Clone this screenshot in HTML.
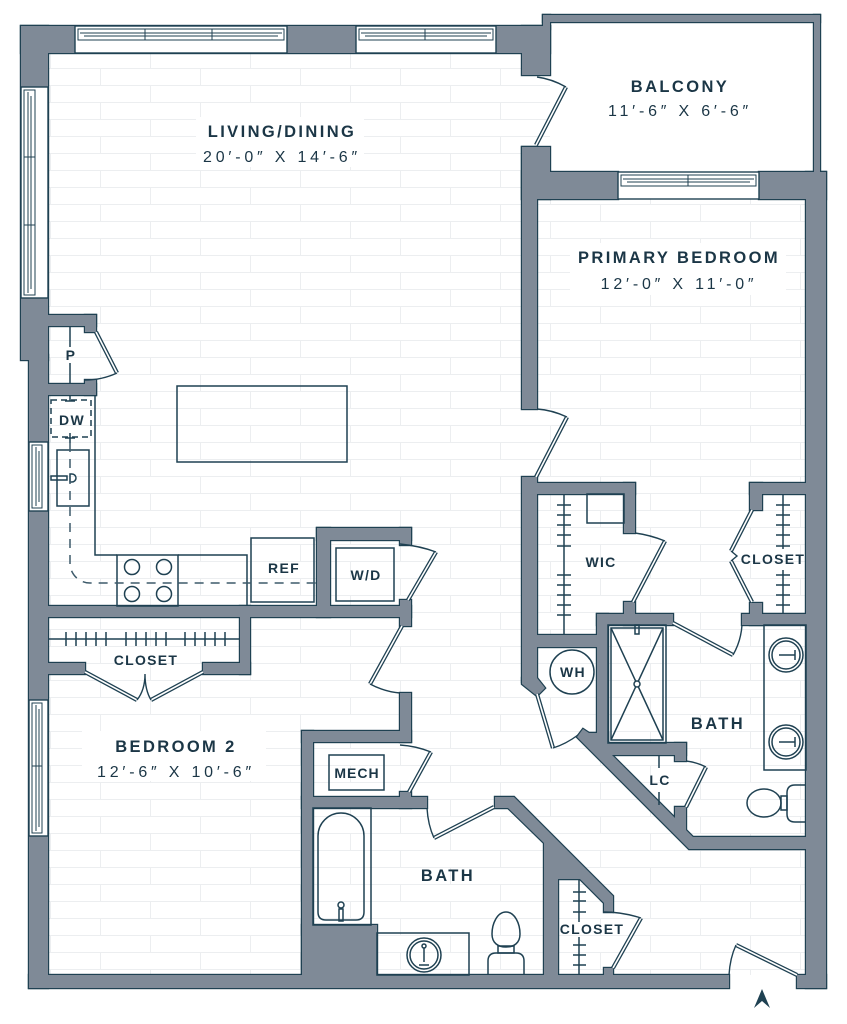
<!DOCTYPE html>
<html>
<head>
<meta charset="utf-8">
<style>
html,body{margin:0;padding:0;background:#fff;}
svg{display:block;}
.t{font-family:"Liberation Sans",sans-serif;fill:#1b3646;}
.lbl{font-weight:bold;font-size:16.5px;letter-spacing:2.4px;}
.dim{font-size:16px;letter-spacing:3.8px;}
.sm{font-weight:bold;font-size:14px;letter-spacing:1.3px;}
</style>
</head>
<body>
<svg width="847" height="1024" viewBox="0 0 847 1024" xmlns="http://www.w3.org/2000/svg">
<defs>
<pattern id="brick" x="0" y="0" width="100" height="34" patternUnits="userSpaceOnUse">
<path d="M0,0.5H100M0,17.5H100M0.5,0V17M50.5,17V34" stroke="#eceef0" stroke-width="1" fill="none"/>
</pattern>
<g id="walls">
<rect x="21" y="26" width="529" height="27"/>
<rect x="21" y="26" width="27" height="334"/>
<rect x="29" y="355" width="19" height="633"/>
<rect x="29" y="975" width="700" height="13"/>
<rect x="797" y="975" width="29" height="13"/>
<rect x="806" y="172" width="20" height="816"/>
<rect x="522" y="26" width="28" height="49"/>
<rect x="522" y="147" width="28" height="52"/>
<rect x="522" y="172" width="96" height="27"/>
<rect x="759" y="172" width="67" height="27"/>
<rect x="522" y="147" width="15" height="262"/>
<rect x="522" y="477" width="15" height="205"/>
<polygon points="522,678 537,678 545,688 537,696 522,684"/>
<rect x="543" y="15" width="277" height="7"/>
<rect x="814" y="15" width="6" height="160"/>
<rect x="543" y="15" width="7" height="14"/>
<rect x="48" y="315" width="48" height="11"/>
<rect x="85" y="315" width="11" height="17"/>
<rect x="48" y="384" width="48" height="11"/>
<rect x="85" y="380" width="11" height="15"/>
<rect x="44" y="606" width="367" height="11"/>
<rect x="317" y="528" width="13" height="89"/>
<rect x="317" y="528" width="94" height="12"/>
<rect x="400" y="528" width="11" height="17"/>
<rect x="400" y="600" width="11" height="26"/>
<rect x="240" y="606" width="10" height="68"/>
<rect x="44" y="663" width="41" height="11"/>
<rect x="203" y="663" width="47" height="11"/>
<rect x="400" y="693" width="11" height="49"/>
<rect x="302" y="731" width="109" height="11"/>
<rect x="400" y="792" width="11" height="16"/>
<rect x="302" y="797" width="125" height="11"/>
<rect x="302" y="731" width="11" height="250"/>
<rect x="302" y="925" width="75" height="55"/>
<polygon points="495,797 514,797 613,896 613,912 604,912 604,903 580,879 558,879 558,980 544,980 544,843 508,808 495,808"/>
<rect x="604" y="968" width="9" height="10"/>
<rect x="530" y="483" width="105" height="11"/>
<rect x="624" y="483" width="11" height="50"/>
<rect x="624" y="602" width="11" height="23"/>
<rect x="530" y="635" width="70" height="12"/>
<rect x="597" y="614" width="11" height="141"/>
<rect x="597" y="614" width="76" height="11"/>
<rect x="597" y="743" width="89" height="12"/>
<rect x="675" y="743" width="11" height="18"/>
<polygon points="577,737 583,729 589,733 608,733 608,755 612,755 675,818 675,807 686,807 686,830 693,837 810,837 810,849 689,849"/>
<rect x="750" y="483" width="60" height="11"/>
<rect x="750" y="483" width="12" height="27"/>
<rect x="750" y="603" width="12" height="22"/>
<rect x="742" y="614" width="68" height="11"/>
</g>
</defs>

<rect x="0" y="0" width="847" height="1024" fill="#fff"/>
<rect x="48" y="53" width="758" height="922" fill="url(#brick)"/>
<rect x="550" y="22" width="264" height="150" fill="#fff"/>

<use href="#walls" fill="#7f8a97" stroke="#1f4152" stroke-width="2.4"/>
<use href="#walls" fill="#7f8a97" stroke="none"/>

<g fill="#fff" stroke="#1f4152" stroke-width="1.4">
<rect x="75" y="26" width="212" height="27"/>
<rect x="356" y="26" width="140" height="27"/>
<rect x="618" y="172" width="141" height="27"/>
<rect x="21" y="87" width="27" height="211"/>
<rect x="29" y="442" width="19" height="69"/>
<rect x="29" y="700" width="19" height="136"/>
</g>
<g fill="none" stroke="#1f4152" stroke-width="1">
<rect x="78" y="29" width="206" height="11"/>
<path d="M80,33H282M84,36H278M145,29V40M212,29V40"/>
<rect x="359" y="29" width="134" height="11"/>
<path d="M361,33H491M365,36H487M425,29V40"/>
<rect x="621" y="175" width="135" height="11"/>
<path d="M623,179H754M627,182H750M688,175V186"/>
<rect x="24" y="90" width="11" height="205"/>
<path d="M28,92V293M31,96V289M24,157H35M24,225H35"/>
<rect x="32" y="445" width="10" height="63"/>
<path d="M36,447V506M39,451V502"/>
<rect x="32" y="703" width="10" height="130"/>
<path d="M36,705V831M39,709V827M32,766H42"/>
</g>

<g stroke="#1f4152" stroke-width="4.2" stroke-linecap="butt">
<line x1="96" y1="332" x2="117" y2="373"/>
<line x1="436" y1="552" x2="408" y2="600"/>
<line x1="402" y1="626" x2="370" y2="684"/>
<line x1="85" y1="672" x2="137" y2="700"/>
<line x1="203" y1="672" x2="151" y2="700"/>
<line x1="431" y1="752" x2="409" y2="792"/>
<line x1="434" y1="838" x2="494" y2="807"/>
<line x1="641" y1="918" x2="613" y2="968"/>
<line x1="797" y1="975" x2="736" y2="945"/>
<line x1="566" y1="87" x2="536" y2="145"/>
<line x1="567" y1="417" x2="536" y2="477"/>
<line x1="665" y1="541" x2="633" y2="602"/>
<line x1="537" y1="694" x2="553" y2="748"/>
<line x1="673" y1="623" x2="733" y2="655"/>
<line x1="752" y1="510" x2="731" y2="551"/>
<line x1="731" y1="561" x2="752" y2="602"/>
<line x1="706" y1="767" x2="686" y2="807"/>
</g>
<g stroke="#fff" stroke-width="1.6">
<line x1="96" y1="332" x2="117" y2="373"/>
<line x1="436" y1="552" x2="408" y2="600"/>
<line x1="402" y1="626" x2="370" y2="684"/>
<line x1="85" y1="672" x2="137" y2="700"/>
<line x1="203" y1="672" x2="151" y2="700"/>
<line x1="431" y1="752" x2="409" y2="792"/>
<line x1="434" y1="838" x2="494" y2="807"/>
<line x1="641" y1="918" x2="613" y2="968"/>
<line x1="797" y1="975" x2="736" y2="945"/>
<line x1="566" y1="87" x2="536" y2="145"/>
<line x1="567" y1="417" x2="536" y2="477"/>
<line x1="665" y1="541" x2="633" y2="602"/>
<line x1="537" y1="694" x2="553" y2="748"/>
<line x1="673" y1="623" x2="733" y2="655"/>
<line x1="752" y1="510" x2="731" y2="551"/>
<line x1="731" y1="561" x2="752" y2="602"/>
<line x1="706" y1="767" x2="686" y2="807"/>
</g>
<g fill="none" stroke="#1f4152" stroke-width="1.4">
<path d="M117,373 Q102,380 85,380"/>
<path d="M400,544 Q420,546 436,552"/>
<path d="M370,684 Q385,692 400,693"/>
<path d="M137,700 Q145,690 145,674 Q145,690 151,700"/>
<path d="M400,745 Q416,746 431,752"/>
<path d="M427,808 Q428,825 434,838"/>
<path d="M604,912 Q622,912 641,918"/>
<path d="M736,945 Q730,958 729,975"/>
<path d="M537,77 Q552,79 566,87"/>
<path d="M537,409 Q552,410 567,417"/>
<path d="M635,533 Q650,535 665,541"/>
<path d="M553,748 Q566,744 578,735"/>
<path d="M733,655 Q741,641 742,625"/>
<path d="M731,551 L737,556 L731,561"/>
<path d="M686,761 Q696,762 706,767"/>
</g>

<g fill="none" stroke="#1f4152" stroke-width="1.5">
<path d="M95,395V555H117M178,555H247V606"/>
<rect x="117" y="555" width="61" height="51"/>
<circle cx="132" cy="567" r="7.5"/><circle cx="164" cy="567" r="7.5"/>
<circle cx="132" cy="594" r="7.5"/><circle cx="164" cy="594" r="7.5"/>
<rect x="251" y="538" width="63" height="64"/>
<rect x="336" y="548" width="58" height="53"/>
<rect x="177" y="386" width="170" height="76"/>
<rect x="57" y="450" width="32" height="56"/>
<rect x="51" y="476" width="16" height="4"/>
<path d="M70,474H72A4,4 0 0 1 72,482H70Z"/>
<path d="M70,326V347M70,363V384"/>
<path d="M70,395V401M65,401H75"/>
<path d="M70,433V443M65,438H75"/>
<path d="M48,639H240M66,632V646M76,632V646M86,632V646M96,632V646M106,632V646M126,632V646M136,632V646M146,632V646M156,632V646M166,632V646M185,632V646M195,632V646M205,632V646M215,632V646M225,632V646"/>
<rect x="329" y="755" width="55" height="35"/>
<rect x="313" y="808" width="58" height="117"/>
<path d="M318,836A23,23 0 0 1 364,836V912Q364,920 356,920H326Q318,920 318,912Z"/>
<circle cx="341" cy="905" r="3"/>
<rect x="339" y="909" width="4" height="12"/>
<rect x="377" y="933" width="92" height="42"/>
<circle cx="424" cy="955" r="17"/><circle cx="424" cy="955" r="14"/>
<path d="M424,948V962M419,965H429"/>
<circle cx="424" cy="946" r="2"/>
<path d="M488,975V961Q488,953 496,953H516Q524,953 524,961V975"/>
<rect x="498" y="946" width="16" height="7"/>
<path d="M506,912C497,912 492,924 492,934C492,943 498,947 506,947C514,947 520,943 520,934C520,924 515,912 506,912Z"/>
<path d="M579,880V922M579,937V975M573,892H586M573,901H586M573,912H586M573,945H586M573,955H586M573,965H586"/>
<rect x="587" y="494" width="37" height="29"/>
<path d="M564,494V635M557,505H571M557,515H571M557,525H571M557,535H571M557,546H571M557,575H571M557,585H571M557,595H571M557,605H571M557,615H571"/>
<path d="M783,494V549M783,570V614M776,505H790M776,515H790M776,525H790M776,535H790M776,546H790M776,575H790M776,585H790M776,595H790M776,605H790"/>
<circle cx="572" cy="672" r="22"/>
<rect x="608" y="625" width="58" height="118"/>
<rect x="611" y="628" width="52" height="112"/>
<path d="M611,628L663,740M663,628L611,740"/>
<circle cx="637" cy="684" r="3" fill="#fff"/>
<rect x="635" y="625" width="4" height="9"/>
<path d="M659,755V768M659,792V805"/>
<rect x="764" y="625" width="42" height="145"/>
<circle cx="786" cy="655" r="17"/><circle cx="786" cy="655" r="14"/>
<circle cx="786" cy="742" r="17"/><circle cx="786" cy="742" r="14"/>
<path d="M779,655H795M795,650V660M779,742H795M795,737V747"/>
<path d="M806,785H795Q787,785 787,793V814Q787,822 795,822H806"/>
<rect x="781" y="796" width="6" height="14"/>
<ellipse cx="764" cy="803" rx="17" ry="14"/>
</g>
<rect x="51" y="400" width="40" height="37" fill="none" stroke="#1f4152" stroke-width="1.5" stroke-dasharray="6,4"/>
<path d="M70,443V563A20,20 0 0 0 90,583H317" fill="none" stroke="#3d5a6a" stroke-width="1.5" stroke-dasharray="9,7"/>

<polygon points="754,1008 762,989 770,1008 762,1001" fill="#1f4152"/>

<g class="t">
<rect x="196" y="117" width="168" height="50" style="fill:#fff"/>
<text class="lbl" x="282" y="137" text-anchor="middle">LIVING/DINING</text>
<text class="dim" x="282" y="162" text-anchor="middle">20′-0″ X 14′-6″</text>
<text class="lbl" x="680" y="92" text-anchor="middle">BALCONY</text>
<text class="dim" x="680" y="116" text-anchor="middle">11′-6″ X 6′-6″</text>
<rect x="570" y="243" width="216" height="52" style="fill:#fff"/>
<text class="lbl" x="679" y="263" text-anchor="middle">PRIMARY BEDROOM</text>
<text class="dim" x="679" y="289" text-anchor="middle">12′-0″ X 11′-0″</text>
<rect x="82" y="731" width="184" height="50" style="fill:#fff"/>
<text class="lbl" x="176" y="752" text-anchor="middle">BEDROOM 2</text>
<text class="dim" x="176" y="777" text-anchor="middle">12′-6″ X 10′-6″</text>
<text class="lbl" x="718" y="729" text-anchor="middle">BATH</text>
<text class="lbl" x="448" y="881" text-anchor="middle">BATH</text>
<text class="sm" x="146" y="665" text-anchor="middle">CLOSET</text>
<text class="sm" x="601" y="567" text-anchor="middle">WIC</text>
<text class="sm" x="773" y="564" text-anchor="middle">CLOSET</text>
<text class="sm" x="592" y="934" text-anchor="middle">CLOSET</text>
<text class="sm" x="573" y="677" text-anchor="middle">WH</text>
<text class="sm" x="660" y="785" text-anchor="middle">LC</text>
<text class="sm" x="357" y="778" text-anchor="middle" style="letter-spacing:1px">MECH</text>
<text class="sm" x="366" y="580" text-anchor="middle">W/D</text>
<text class="sm" x="284" y="573" text-anchor="middle">REF</text>
<text class="sm" x="72" y="425" text-anchor="middle">DW</text>
<text class="sm" x="71" y="360" text-anchor="middle">P</text>
</g>
</svg>
</body>
</html>
